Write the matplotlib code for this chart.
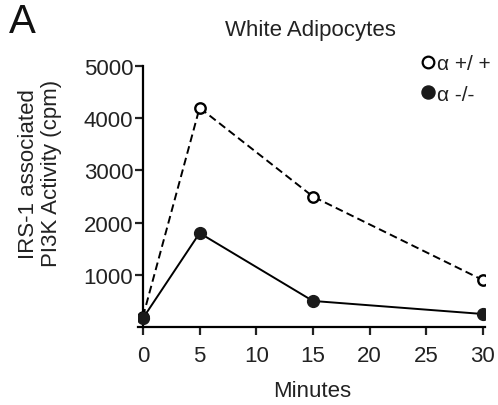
import matplotlib.pyplot as plt
from matplotlib.lines import Line2D

plt.rcParams['font.family'] = ['Liberation Sans', 'DejaVu Sans']

minutes = [0, 5, 15, 30]
wt_vals = [200, 4200, 2500, 900]
ko_vals = [170, 1800, 500, 250]
x_ticks = [0, 5, 10, 15, 20, 25, 30]
y_ticks = [1000, 2000, 3000, 4000, 5000]

fig = plt.figure(figsize=(4.98, 4.06), dpi=100)
ax = fig.add_axes([0.278, 0.192, 0.696, 0.643])

ax.plot(minutes, wt_vals, color='black', linestyle=(0, (4, 2.2)), linewidth=1.4,
        marker='o', markersize=7.5, markerfacecolor='white', markeredgewidth=1.7, zorder=3)
ax.plot(minutes, ko_vals, color='black', linestyle='-', linewidth=1.4,
        marker='o', markersize=8.5, markerfacecolor='#1a1a1a', markeredgecolor='#1a1a1a', zorder=3)

ax.set_xlim(-0.4, 30.2)
ax.set_ylim(0, 5000)
ax.spines['left'].set_position(('data', 0))
ax.spines['top'].set_visible(False)
ax.spines['right'].set_visible(False)
ax.spines['left'].set_linewidth(1.6)
ax.spines['bottom'].set_linewidth(1.6)
ax.set_xticks(x_ticks)
ax.set_yticks(y_ticks)
ax.tick_params(width=1.6, length=6, labelsize=16, pad=1, colors='#222222')
ax.tick_params(axis='x', pad=7)
ax.set_xlabel('Minutes', fontsize=16, labelpad=10, color='#222222')
fig.text(0.08, 0.572, 'IRS-1 associated\nPI3K Activity (cpm)', rotation=90,
         fontsize=16, ha='center', va='center', linespacing=1.15, color='#222222')

fig.text(0.623, 0.925, 'White Adipocytes', fontsize=16, ha='center', va='center', color='#222222')
fig.text(0.018, 0.945, 'A', fontsize=29, ha='left', va='center', color='#111111')

handles = [Line2D([], [], linestyle='none', marker='o', markersize=8.4, markerfacecolor='white',
                  markeredgecolor='black', markeredgewidth=1.6),
           Line2D([], [], linestyle='none', marker='o', markersize=9.4, markerfacecolor='#1a1a1a',
                  markeredgecolor='#1a1a1a')]
fig.legend(handles, ['α +/ +', 'α -/-'], loc='upper left', bbox_to_anchor=(0.846, 0.864),
           frameon=False, fontsize=15, handlelength=0.65, handletextpad=0.1, labelspacing=0.55,
           borderaxespad=0, borderpad=0, labelcolor='#222222')

fig.savefig('out.png', dpi=100)
